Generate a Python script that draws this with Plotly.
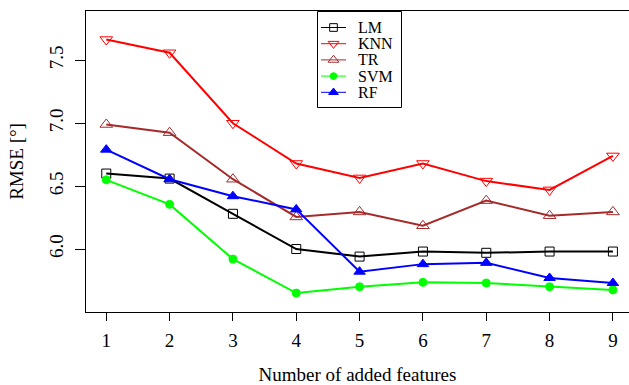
import plotly.graph_objects as go

features = [1, 2, 3, 4, 5, 6, 7, 8, 9]
lm = [6.60, 6.56, 6.28, 6.00, 5.94, 5.98, 5.97, 5.98, 5.98]
knn = [7.665, 7.56, 7.00, 6.68, 6.565, 6.68, 6.54, 6.47, 6.74]
tr = [6.99, 6.925, 6.555, 6.255, 6.295, 6.185, 6.385, 6.265, 6.295]
svm = [6.55, 6.355, 5.92, 5.65, 5.70, 5.735, 5.73, 5.70, 5.675]
rf = [6.79, 6.555, 6.42, 6.315, 5.82, 5.88, 5.89, 5.77, 5.73]

y_ticks = [6.0, 6.5, 7.0, 7.5]
x_ticks = [1, 2, 3, 4, 5, 6, 7, 8, 9]

FONT = "Liberation Serif"

series = [
    ("LM", lm, "black", "square-open", 9),
    ("KNN", knn, "#FF0000", "triangle-down-open", 11),
    ("TR", tr, "#A52A2A", "triangle-up-open", 11),
    ("SVM", svm, "#00FF00", "circle", 8),
    ("RF", rf, "#0000FF", "triangle-up", 10),
]

# plot area in pixels
L, T, W, H = 86, 11, 543, 301

fig = go.Figure()
for name, vals, col, sym, sz in series:
    fig.add_trace(go.Scatter(
        x=features, y=vals, name=name, mode="lines+markers",
        line=dict(color=col, width=2),
        marker=dict(symbol=sym, size=sz, color=col, line=dict(color=col, width=1)),
        showlegend=False,
    ))

# custom legend (R style) on an overlay axis measured in pixels
leg_left, leg_right, leg_top, leg_bottom = 317.5, 401.5, 11.5, 107.5
row0, row_step = 27.5, 16.2
seg_x0, seg_x1, txt_x = 321, 346, 357
fig.add_shape(type="rect", xref="x2", yref="y2",
              x0=leg_left, x1=leg_right, y0=leg_top, y1=leg_bottom,
              line=dict(color="black", width=1), fillcolor="white", layer="below")
for i, (name, vals, col, sym, sz) in enumerate(series):
    yy = row0 + row_step * i
    fig.add_trace(go.Scatter(
        x=[seg_x0, seg_x1], y=[yy, yy],
        xaxis="x2", yaxis="y2", mode="lines",
        line=dict(color=col, width=1), showlegend=False, hoverinfo="skip",
    ))
    fig.add_trace(go.Scatter(
        x=[(seg_x0 + seg_x1) / 2], y=[yy],
        xaxis="x2", yaxis="y2", mode="markers",
        marker=dict(symbol=sym, size=sz * 0.85, color=col, line=dict(color=col, width=1)),
        showlegend=False, hoverinfo="skip",
    ))
    fig.add_annotation(x=txt_x, y=yy, xref="x2", yref="y2", text=name,
                       showarrow=False, xanchor="left", yanchor="middle",
                       height=13, borderpad=0, valign="middle",
                       font=dict(family=FONT, size=16, color="black"))

fig.update_layout(
    width=629, height=385,
    margin=dict(l=L, r=629 - L - W, t=T, b=385 - T - H),
    paper_bgcolor="white", plot_bgcolor="white",
    font=dict(family=FONT, size=19, color="black"),
    showlegend=False,
    xaxis=dict(
        range=[0.68, 0.68 + W / 63.33],
        tickvals=x_ticks, ticktext=[str(v) for v in x_ticks],
        ticks="outside", ticklen=8, tickwidth=1, tickcolor="black",
        showline=True, linecolor="black", linewidth=1, mirror=True,
        showgrid=False, zeroline=False, automargin=False,
        tickfont=dict(family=FONT, size=19),
        ticklabelstandoff=3,
        title=dict(text="Number of added features", font=dict(family=FONT, size=19), standoff=20),
    ),
    yaxis=dict(
        range=[5.4995, 7.892],
        tickvals=y_ticks, ticktext=["%.1f" % v for v in y_ticks],
        tickangle=-90,
        ticks="outside", ticklen=10, tickwidth=1, tickcolor="black",
        showline=True, linecolor="black", linewidth=1, mirror=False,
        showgrid=False, zeroline=False, automargin=False,
        tickfont=dict(family=FONT, size=19),
        ticklabelstandoff=4,
        title=dict(text="RMSE [°]", font=dict(family=FONT, size=19), standoff=17),
    ),
    xaxis2=dict(overlaying="x", range=[L, L + W], visible=False, fixedrange=True),
    yaxis2=dict(overlaying="y", range=[T + H, T], visible=False, fixedrange=True),
)

fig.write_html("out.html", config={"displayModeBar": False},
               post_script="document.body.style.margin='0';document.body.style.padding='0';document.body.style.overflow='hidden';")
